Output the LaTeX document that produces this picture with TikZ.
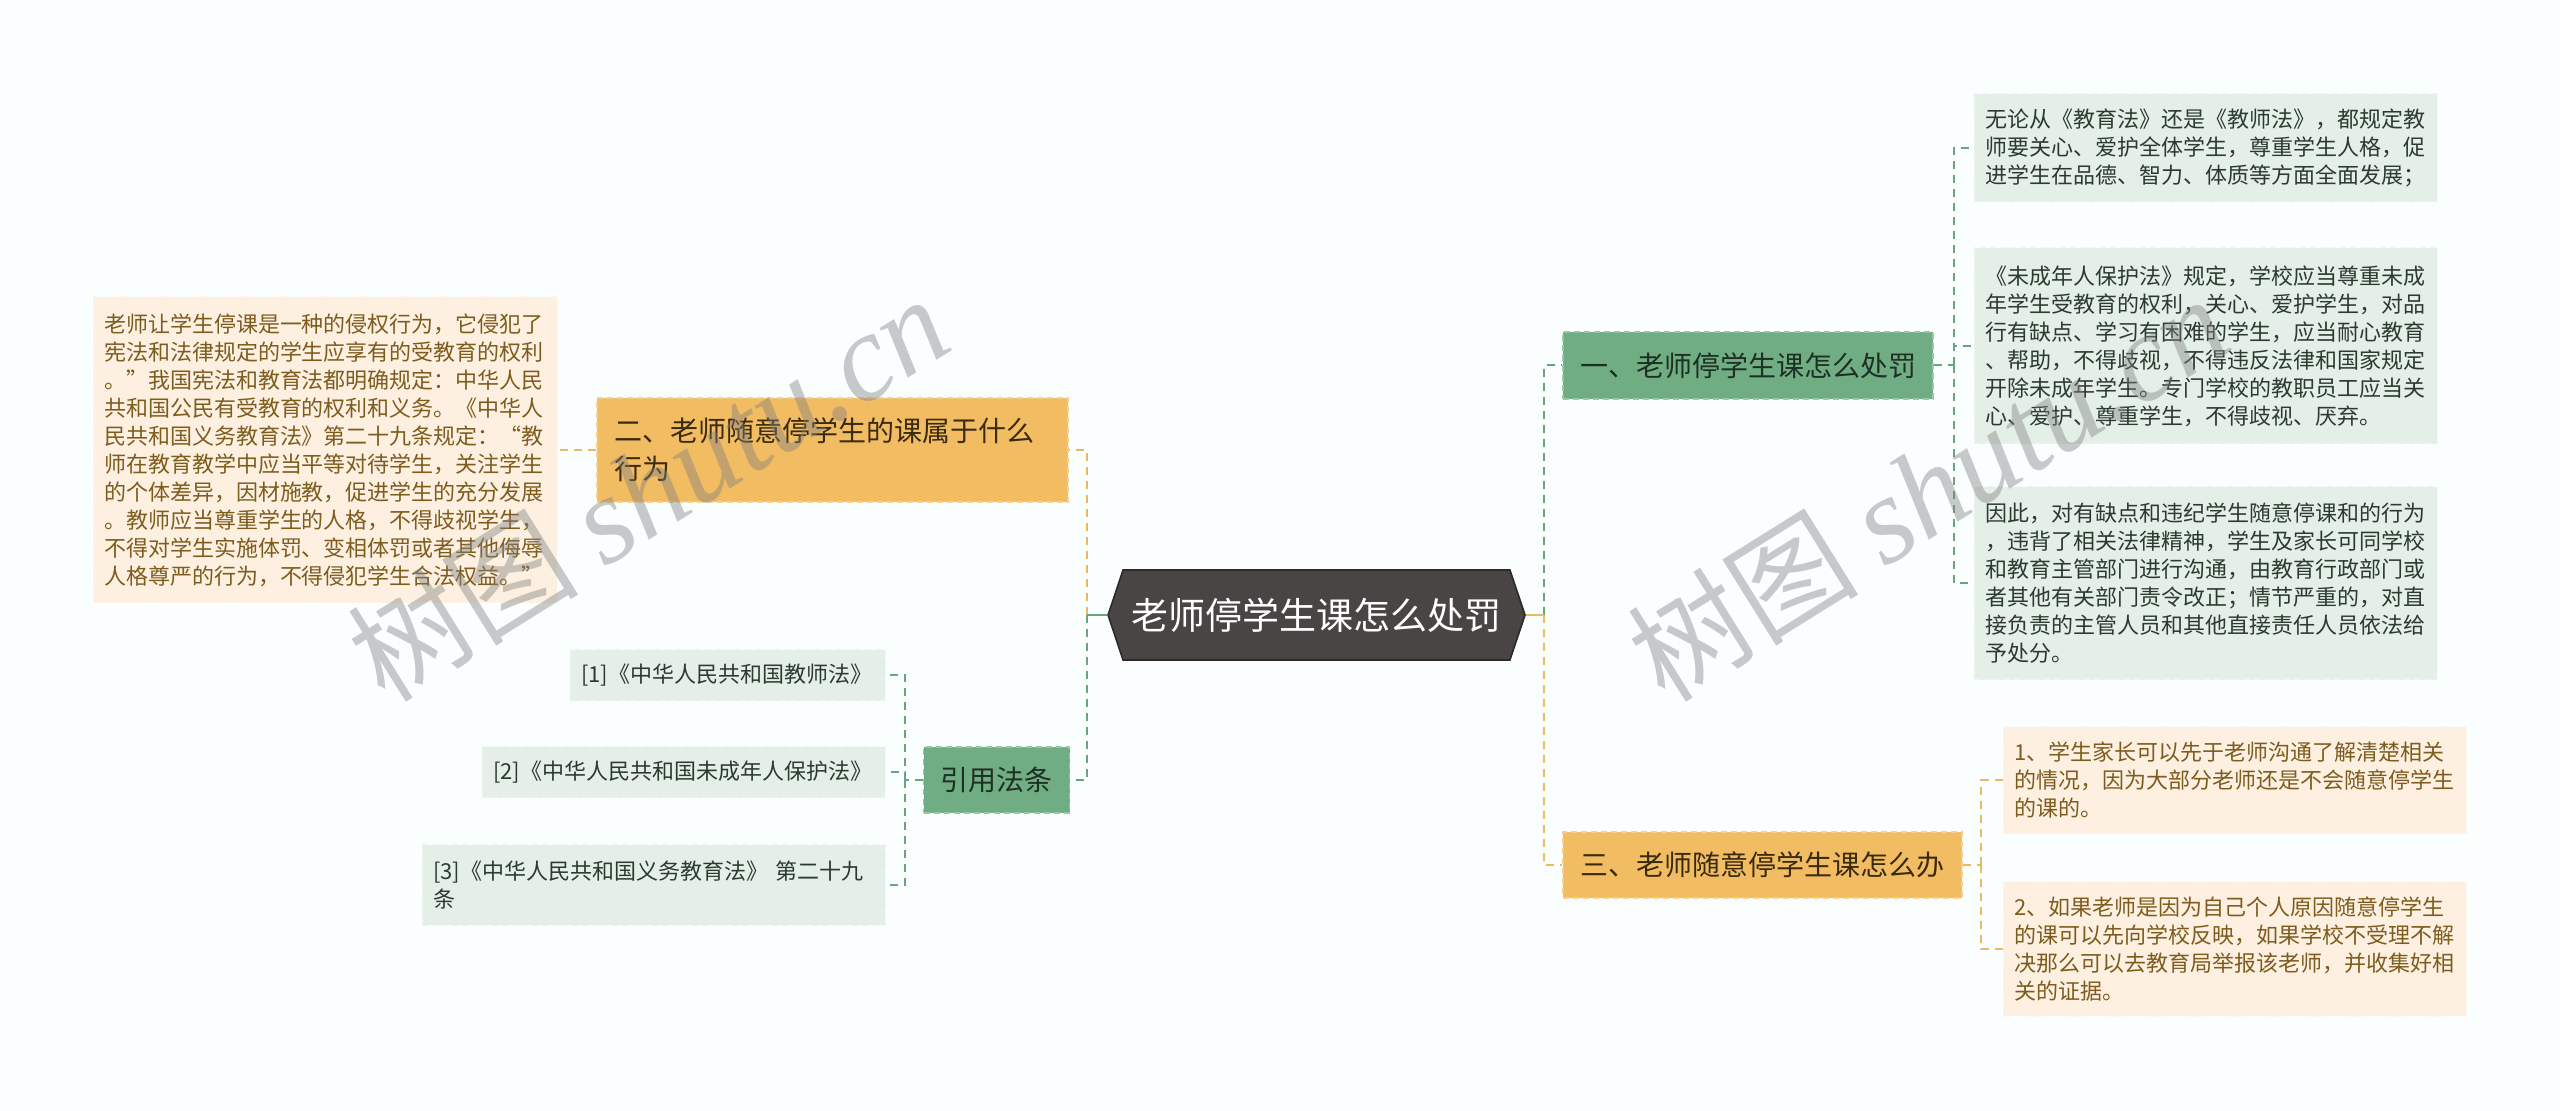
\documentclass[tikz,border=0pt]{standalone}
\usepackage{fontspec}
\setmainfont{Noto Sans CJK SC}
\newfontfamily\wmfont{Noto Sans CJK SC}
\newfontfamily\wmlatin{Liberation Serif}
\usepackage{tikz}
\usetikzlibrary{arrows.meta, positioning, shapes.symbols}

\definecolor{bgcol}{RGB}{250,254,254}
\definecolor{rootfill}{RGB}{74,69,69}
\definecolor{rootline}{RGB}{45,41,41}
\definecolor{grfill}{RGB}{112,173,131}
\definecolor{grtext}{RGB}{30,48,36}
\definecolor{grleaf}{RGB}{228,239,231}
\definecolor{grleaftext}{RGB}{44,58,48}
\definecolor{grlink}{RGB}{104,164,124}
\definecolor{orfill}{RGB}{241,188,98}
\definecolor{ortext}{RGB}{58,42,14}
\definecolor{orleaf}{RGB}{253,240,225}
\definecolor{orleaftext}{RGB}{125,92,30}
\definecolor{orlink}{RGB}{233,186,96}

\tikzset{
  rootnode/.style={signal, signal to=west and east, signal pointer angle=143, fill=rootfill, draw=rootline, line width=0.8pt, text=white, font=\fontsize{18.5}{22}\selectfont, minimum width=208.5pt, minimum height=45pt, inner sep=0pt},
  mainbox/.style={rectangle, inner xsep=8.5pt, inner ysep=0pt, font=\fontsize{14}{19}\selectfont, dash pattern=on 3pt off 2pt, line width=0.6pt},
  grmain/.style={mainbox, fill=grfill, draw=grfill!70!white, text=grtext},
  ormain/.style={mainbox, fill=orfill, draw=orfill!70!white, text=ortext},
  leaf/.style={rectangle, align=left, inner xsep=5.5pt, inner ysep=0pt, font=\fontsize{11}{14}\selectfont, dash pattern=on 3pt off 2pt, line width=0.5pt},
  grleafbox/.style={leaf, fill=grleaf, draw=grleaf!60!white, text=grleaftext},
  orleafbox/.style={leaf, fill=orleaf, draw=orleaf!60!white, text=orleaftext},
  grwire/.style={draw=grlink, line width=1pt},
  orwire/.style={draw=orlink, line width=1pt},
  gap/.style={dash pattern=on 4pt off 3pt},
  watermark/.style={rotate=32, anchor=base west, inner sep=0pt, text=black!50, text opacity=0.42, font=\fontsize{58}{58}\selectfont}
}

\begin{document}
\begin{tikzpicture}[x=0.5pt, y=-0.5pt]
		% Paths, nodes and wires:
		\fill[bgcol] (0,0) rectangle (2560,1111);
		\useasboundingbox (0,0) rectangle (2560,1111);
		\node[rootnode] (R) at (1316.5, 615){老师停学生课怎么处罚};
		\node[grmain, minimum width=185pt, minimum height=33.5pt] (B1) at (1748, 365.5){一、老师停学生课怎么处罚};
		\node[ormain, align=left, text width=218.5pt, minimum height=52pt] (B2) at (832.5, 450){二、老师随意停学生的课属于什么\\行为};
		\node[ormain, minimum width=199.5pt, minimum height=33pt] (B3) at (1762.5, 865){三、老师随意停学生课怎么办};
		\node[grmain, minimum width=71.5pt, minimum height=33pt] (B4) at (996.5, 780){引用法条};
		\node[orleafbox, text width=221pt, minimum height=153pt] (A1) at (325, 450){老师让学生停课是一种的侵权行为，它侵犯了\\宪法和法律规定的学生应享有的受教育的权利\\。”我国宪法和教育法都明确规定：中华人民\\共和国公民有受教育的权利和义务。《中华人\\民共和国义务教育法》第二十九条规定：“教\\师在教育教学中应当平等对待学生，关注学生\\的个体差异，因材施教，促进学生的充分发展\\。教师应当尊重学生的人格，不得歧视学生，\\不得对学生实施体罚、变相体罚或者其他侮辱\\人格尊严的行为，不得侵犯学生合法权益。”};
		\node[grleafbox, text width=220.5pt, minimum height=54pt] (C1) at (2205.5, 148){无论从《教育法》还是《教师法》，都规定教\\师要关心、爱护全体学生，尊重学生人格，促\\进学生在品德、智力、体质等方面全面发展；};
		\node[grleafbox, text width=220.5pt, minimum height=98pt] (C2) at (2205.5, 346){《未成年人保护法》规定，学校应当尊重未成\\年学生受教育的权利，关心、爱护学生，对品\\行有缺点、学习有困难的学生，应当耐心教育\\、帮助，不得歧视，不得违反法律和国家规定\\开除未成年学生。专门学校的教职员工应当关\\心、爱护、尊重学生，不得歧视、厌弃。};
		\node[grleafbox, text width=220.5pt, minimum height=96.5pt] (C3) at (2205.5, 583.5){因此，对有缺点和违纪学生随意停课和的行为\\，违背了相关法律精神，学生及家长可同学校\\和教育主管部门进行沟通，由教育行政部门或\\者其他有关部门责令改正；情节严重的，对直\\接负责的主管人员和其他直接责任人员依法给\\予处分。};
		\node[orleafbox, text width=220.5pt, minimum height=53.5pt] (D1) at (2234.5, 780.5){1、学生家长可以先于老师沟通了解清楚相关\\的情况，因为大部分老师还是不会随意停学生\\的课的。};
		\node[orleafbox, text width=220.5pt, minimum height=67pt] (D2) at (2234.5, 949){2、如果老师是因为自己个人原因随意停学生\\的课可以先向学校反映，如果学校不受理不解\\决那么可以去教育局举报该老师，并收集好相\\关的证据。};
		\node[grleafbox, text width=146.5pt, minimum height=25.5pt] (L1) at (727.5, 675.5){[1]《中华人民共和国教师法》};
		\node[grleafbox, text width=190.5pt, minimum height=25.5pt] (L2) at (683.5, 772.5){[2]《中华人民共和国未成年人保护法》};
		\node[grleafbox, text width=220.5pt, minimum height=40pt] (L3) at (653.5, 885){[3]《中华人民共和国义务教育法》 第二十九\\条};
		\coordinate (RL) at (1087, 615);
		\coordinate (RR) at (1544, 615);
		\coordinate (J1) at (1954, 365.5);
		\coordinate (J3) at (1981, 865);
		\coordinate (J4) at (905, 780);
		\draw[orwire] (R.west) -- (RL);
		\draw[orwire, gap] (RL) |- (B2.east);
		\draw[grwire] (R.west) -- (RL);
		\draw[grwire, gap] (RL) |- (B4.east);
		\draw[grwire] (R.east) -- (RR);
		\draw[grwire, gap] (RR) |- (B1.west);
		\draw[orwire] (R.east) -- (RR);
		\draw[orwire, gap] (RR) |- (B3.west);
		\draw[orwire, gap] (B2.west) -- (A1.east);
		\draw[grwire, gap] (B1.east) -- (J1);
		\draw[grwire, gap] (J1) |- (C1.west);
		\draw[grwire, gap] (J1) |- (C2.west);
		\draw[grwire, gap] (J1) |- (C3.west);
		\draw[orwire, gap] (B3.east) -- (J3);
		\draw[orwire, gap] (J3) |- (D1.west);
		\draw[orwire, gap] (J3) |- (D2.west);
		\draw[grwire, gap] (B4.west) -- (J4);
		\draw[grwire, gap] (J4) |- (L1.east);
		\draw[grwire, gap] (J4) |- (L2.east);
		\draw[grwire, gap] (J4) |- (L3.east);
		\node[watermark] (W1) at (385, 705){\wmfont 树图 {\wmlatin\fontsize{62}{62}\selectfont\itshape shutu.cn}};
		\node[watermark] (W2) at (1665, 705){\wmfont 树图 {\wmlatin\fontsize{62}{62}\selectfont\itshape shutu.cn}};
	\end{tikzpicture}
\end{document}
